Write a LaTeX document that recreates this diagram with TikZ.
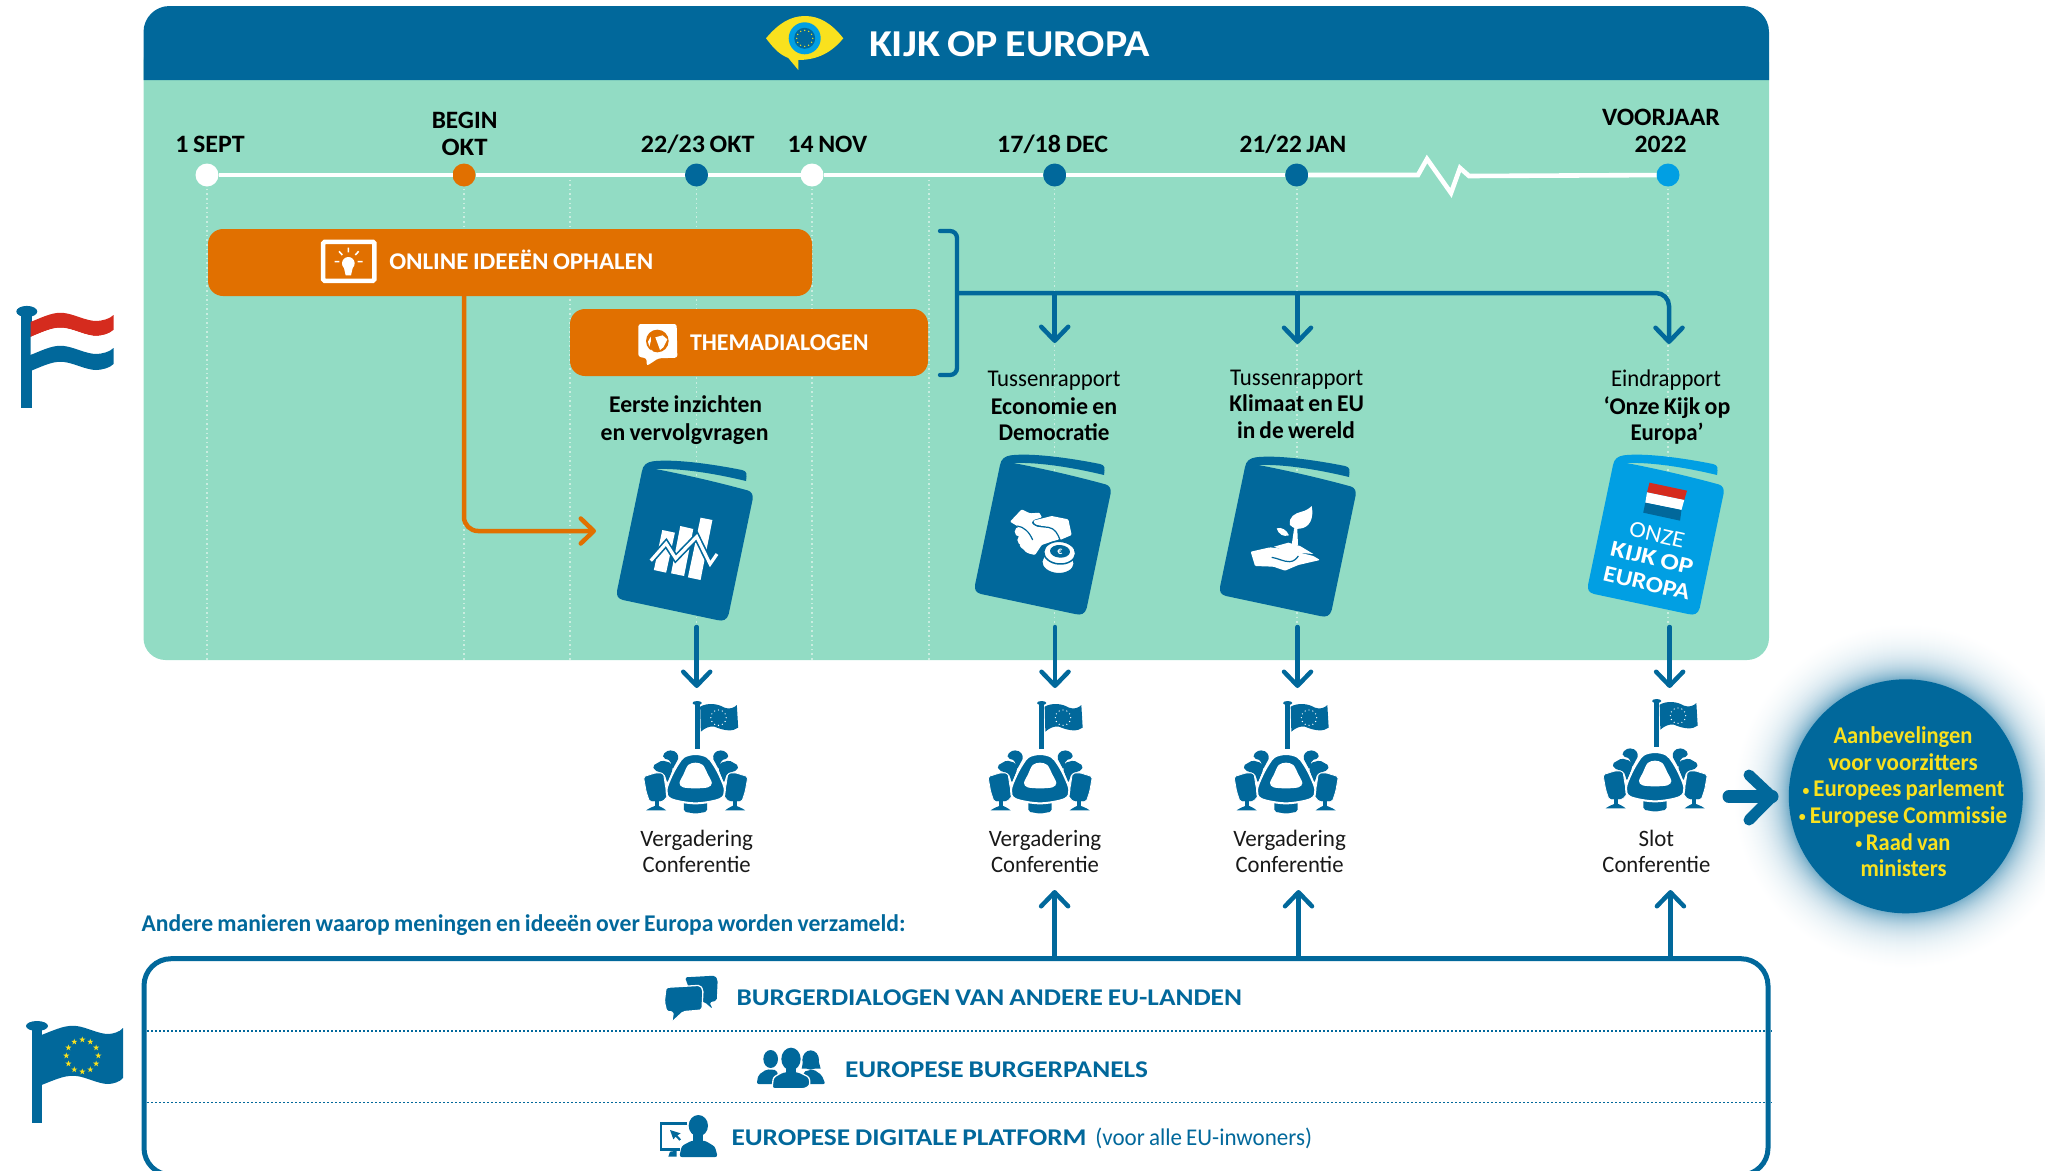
\documentclass[tikz,border=0pt]{standalone}
\usepackage{fontspec}
\usepackage{graphicx}
\usetikzlibrary{arrows.meta}
\setmainfont{Carlito}[WordSpace=0.8]
\definecolor{hblue}{HTML}{01689B}
\definecolor{mint}{HTML}{92DCC4}
\definecolor{oranje}{HTML}{E17000}
\definecolor{geel}{HTML}{F9E11E}
\definecolor{cyaan}{HTML}{019FE3}
\definecolor{rood}{HTML}{D52B1E}
\definecolor{hint}{HTML}{C9EDE0}
\newcommand\fs[1]{\fontsize{#1}{#1}\selectfont}
\newcommand\fw[2]{\resizebox{#1pt}{\height}{#2}}
\newcommand\bul{\raisebox{1.6pt}{\scalebox{.6}{•}}}
\newcommand\bookshape[1]{%
\fill[#1] (1245,467) .. controls (1246,461) and (1250,458) .. (1256,457.3) .. controls (1275,455) and (1310,459) .. (1345,466) .. controls (1350,467) and (1350,470) .. (1349,477) .. controls (1320,470) and (1285,464) .. (1258.3,465) .. controls (1285,470) and (1320,478) .. (1351,486.5) .. controls (1355,488) and (1356,491) .. (1355.7,495) -- (1331.7,610) .. controls (1330,616) and (1326,617.5) .. (1320,616) -- (1226,596) .. controls (1221,594.5) and (1219.5,592) .. (1220,587) -- cycle;}
% one band of a waving flag: x at left, crest, dip, right; y top, y bottom; colour
\newcommand\band[7]{%
\fill[#7] (#1,#5) .. controls ({#1+0.5*(#2-#1)},{#5-7}) and ({#2-0.3*(#2-#1)},{#5-10}) .. (#2,{#5-9}) .. controls ({#2+0.3*(#3-#2)},{#5-8}) and ({#3-0.3*(#3-#2)},{#5-1}) .. (#3,{#5-1}) .. controls ({#3+0.3*(#4-#3)},{#5-1}) and ({#4-0.2*(#4-#3)},{#5-3}) .. (#4,{#5-7})
 -- (#4,{#6-7}) .. controls ({#4-0.2*(#4-#3)},{#6-3}) and ({#3+0.3*(#4-#3)},{#6-1}) .. (#3,{#6-1}) .. controls ({#3-0.3*(#3-#2)},{#6-1}) and ({#2+0.3*(#3-#2)},{#6-8}) .. (#2,{#6-9}) .. controls ({#2-0.3*(#2-#1)},{#6-10}) and ({#1+0.5*(#2-#1)},{#6-7}) .. (#1,#6) -- cycle;}
\newcommand\chairs{%
 \fill[hblue,rounded corners=1.8pt] (70,212) -- (98,196) -- (125,204) -- (130,222) -- (114,265) -- (105,236) -- (75,226) -- cycle;
 \fill[hblue,rounded corners=1.8pt] (100,178) -- (118,165) -- (140,170) -- (148,188) -- (128,225) -- (122,196) -- (102,190) -- cycle;
 \draw[white,line width=.8pt,fill=hblue,rounded corners=1.8pt] (42,245) -- (80,233) -- (102,235) -- (108,275) -- (115,302) -- (100,320) -- (60,320) -- (50,290) -- cycle;
 \fill[hblue] (76,316) rectangle (88,334);
 \fill[hblue] (50,346) .. controls (60,338) and (75,334) .. (82,330) .. controls (90,334) and (100,338) .. (110,346) -- cycle;}
\tikzset{
 x=1pt,y=-1pt,
 lab/.style={inner sep=0pt,outer sep=0pt,anchor=base,align=center,text=black},
 datum/.style={lab,font=\fs{25}\bfseries},
 book lab/.style={lab,font=\fs{24}},
 book head/.style={lab,font=\fs{24}\bfseries},
 meet lab/.style={lab,font=\fs{23.5},text=black!90},
 tl/.style={draw=white,line width=4.6pt,miter limit=10},
 dot/.style={circle,minimum size=23pt,inner sep=0pt,outer sep=0pt},
 hint line/.style={draw=hint,line width=1.5pt,dash pattern=on 1.6pt off 3pt},
 obox/.style={fill=oranje,rounded corners=15pt,inner sep=0pt,outer sep=0pt},
 otxt/.style={lab,text=white,font=\fs{24}\bfseries},
 conn/.style={draw=hblue,line width=4.5pt},
 arr/.style={conn,-{Straight Barb[length=14pt,width=27pt,line width=4.5pt,round]}},
 onder/.style={lab,anchor=base west,text=hblue,font=\fs{24}\bfseries},
 panelline/.style={draw=hblue,line width=1.5pt,dash pattern=on 1.5pt off 2.5pt},
 cirk/.style={lab,text=geel,font=\fs{24}\bfseries},
 kover/.style={inner sep=0pt,rotate=-13,text=white},
 meeting/.pic={
  \begin{scope}[scale=1/3,shift={(-204,0)}]
   \fill[hblue] (196,24) rectangle (211,162);
   \fill[hblue] (203,24) ellipse [x radius=14,y radius=6];
   \fill[hblue] (212,35) .. controls (235,22) and (265,26) .. (285,38) .. controls (300,44) and (315,38) .. (322,30) -- (326,98) .. controls (310,110) and (285,108) .. (255,95) .. controls (240,92) and (225,100) .. (214,110) -- cycle;
   \foreach \a in {0,30,...,330} \fill[white,shift={(267,68)}] (\a:23) circle [radius=2];
   \chairs
   \begin{scope}[shift={(397,0)},xscale=-1] \chairs \end{scope}
   \fill[hblue,rounded corners=2pt] (163,315) -- (233,315) -- (233,350) -- (198,356) -- (163,350) -- cycle;
   \draw[white,line width=2pt,fill=hblue] plot[smooth cycle,tension=.55] coordinates {(198,177) (232,185) (252,208) (272,245) (286,285) (272,312) (198,325) (124,312) (111,285) (125,245) (145,208) (164,185)};
   \fill[white] plot[smooth cycle,tension=.55] coordinates {(198,203) (220,210) (235,238) (247,264) (235,277) (198,280) (161,277) (150,264) (162,238) (176,210)};
  \end{scope}
 }
}
\begin{document}
\begin{tikzpicture}
\useasboundingbox (0,0) rectangle (2045,1170);
\clip (0,0) rectangle (2045,1170);
% panel
\fill[mint,rounded corners=22pt] (143.5,40) -- (143.5,660) -- (1769,660) -- (1769,40) -- cycle;
\fill[hblue,rounded corners=26pt] (143.5,80) -- (143.5,6) -- (1769,6) -- (1769,80);
% eye
\fill[geel] (766,38.3) .. controls (778,24) and (790,16) .. (805,16) .. controls (820,16) and (832,24) .. (843.3,38.3) .. controls (832,52) and (818,60) .. (798.3,60) -- (798.3,70) -- (788.3,58) .. controls (778,54) and (772,46) .. (766,38.3) -- cycle;
\fill[cyaan] (804.7,38.3) circle [radius=16];
\fill[hblue] (804.7,38.3) circle [radius=10.5];
\foreach \a in {0,30,...,330} \fill[geel,shift={(804.7,38.3)}] (\a:8) circle [radius=.75];
\node[lab,anchor=base west,text=white,font=\fs{38}\bfseries] (titel) at (869,56.7) {\fw{281}{KIJK OP EUROPA}};
% dotted guide lines
\foreach \gx in {207,464,570,696.5,812,929,1054.7,1297,1668}
  \draw[hint line] (\gx,175) -- (\gx,660);
% time line
\node[dot,fill=white] (d1) at (207,175) {};
\node[dot,fill=oranje] (d2) at (464,175) {};
\node[dot,fill=hblue] (d3) at (696.5,175) {};
\node[dot,fill=white] (d4) at (812,175) {};
\node[dot,fill=hblue] (d5) at (1054.7,175) {};
\node[dot,fill=hblue] (d6) at (1296.7,175) {};
\node[dot,fill=cyaan] (d7) at (1668,175) {};
\coordinate (z1) at (1418,175);
\coordinate (z2) at (1427,159);
\coordinate (z3) at (1451,193);
\coordinate (z4) at (1460,168);
\coordinate (z5) at (1469,176);
\draw[tl] (d1) -- (d2);
\draw[tl] (d2) -- (d3);
\draw[tl] (d3) -- (d4);
\draw[tl] (d4) -- (d5);
\draw[tl] (d5) -- (d6);
\draw[tl] (d6) -- (z1) -- (z2) -- (z3) -- (z4) -- (z5) -- (d7);
\node[datum] (t1) at (210,152.7) {\fw{69.5}{1 SEPT}};
\node[datum] (t2a) at (464.6,128) {\fw{65.7}{BEGIN}};
\node[datum] (t2b) at (464.6,155) {\fw{46}{OKT}};
\node[datum] (t3) at (697.7,152.7) {\fw{113.5}{22/23 OKT}};
\node[datum] (t4) at (827.5,152.7) {\fw{79.7}{14 NOV}};
\node[datum] (t5) at (1052.7,152.7) {\fw{111}{17/18 DEC}};
\node[datum] (t6) at (1293,152.7) {\fw{106.7}{21/22 JAN}};
\node[datum] (t7a) at (1661,125) {\fw{118}{VOORJAAR}};
\node[datum] (t7b) at (1660.7,152.7) {\fw{52}{2022}};
% orange connector
\coordinate (o1) at (464,295);
\coordinate (o2) at (464,531);
\coordinate (o3) at (596,531);
\draw[draw=oranje,line width=4.5pt,rounded corners=14pt,-{Straight Barb[length=13pt,width=25pt,line width=4.5pt,round]}] (o1) -- (o2) -- (o3);
% orange boxes
\node[obox,minimum width=604pt,minimum height=67pt] (b1) at (510,262.5) {};
\node[obox,minimum width=358pt,minimum height=67pt] (b2) at (749,342.5) {};
\node[otxt,anchor=base west] (b1t) at (389.3,269) {\fw{264}{ONLINE IDEEËN OPHALEN}};
\node[otxt,anchor=base west] (b2t) at (690,350) {\fw{178.6}{THEMADIALOGEN}};
\begin{scope}[shift={(310,230)},scale=1/3]
 \draw[white,line width=4.6pt,rounded corners=1.5pt] (39.5,35.5) rectangle (193,152.5);
 \fill[white] (115,100) circle [radius=19];
 \fill[white] (101,110) -- (129,110) -- (123,136) -- (107,136) -- cycle;
 \draw[white,line width=1.6pt] (115,53) -- (115,67) (87,64) -- (97,75) (146,64) -- (136,75) (74,95) -- (88,95) (143,95) -- (158,95);
 % globe bubble
 \fill[white,rounded corners=2.5pt] (985,282) -- (1100,282) -- (1102,383) -- (1045,385) -- (1010,408) -- (1010,385) -- (985,380) -- cycle;
 \fill[oranje] (1042,333) circle [radius=34];
 \fill[white] (1036,322) -- (1058,316) -- (1072,328) -- (1060,352) -- (1050,360) -- (1042,338) -- cycle;
 \fill[white] (1014,335) -- (1022,320) -- (1023,332) -- (1018,350) -- cycle;
 \fill[white] (1022,358) -- (1030,364) -- (1026,366) -- cycle;
\end{scope}
% bracket and report arrows
\coordinate (br1) at (940,231);
\coordinate (br2) at (957,231);
\coordinate (br3) at (957,375);
\coordinate (br4) at (940,375);
\coordinate (bus0) at (957,293);
\coordinate (bus1) at (1054.7,293);
\coordinate (bus2) at (1297.5,293);
\coordinate (bus3) at (1669,293);
\coordinate (r1) at (1054.7,343);
\coordinate (r2) at (1297.5,344);
\coordinate (r3) at (1669,344);
\draw[conn,line width=4.3pt,rounded corners=7pt,line cap=round] (br1) -- (br2) -- (br3) -- (br4);
\draw[arr,rounded corners=13pt] (bus0) -- (bus3) -- (r3);
\draw[arr] (bus1) -- (r1);
\draw[arr] (bus2) -- (r2);
% report captions
\node[book head] (c1) at (685.6,412.7) {\fw{153}{Eerste inzichten}};
\node[book head] (c1b) at (684.6,440.7) {\fw{168}{en vervolgvragen}};
\node[book lab] (c2) at (1054,386.7) {\fw{133}{Tussenrapport}};
\node[book head] (c2b) at (1054,414) {\fw{126.5}{Economie en}};
\node[book head] (c2c) at (1054,440.7) {\fw{111}{Democratie}};
\node[book lab] (c3) at (1296.7,385) {\fw{133}{Tussenrapport}};
\node[book head] (c3b) at (1296.7,411.7) {\fw{134.7}{Klimaat en EU}};
\node[book head] (c3c) at (1296,438.3) {\fw{118}{in de wereld}};
\node[book lab] (c4) at (1666,386.7) {\fw{110}{Eindrapport}};
\node[book head] (c4b) at (1667,414) {\fw{126.7}{‘Onze Kijk op}};
\node[book head] (c4c) at (1667,440.7) {\fw{73}{Europa’}};
% books
\begin{scope}[shift={(-603,4)}] \bookshape{hblue} \end{scope}
\begin{scope}[shift={(-245,-2)}] \bookshape{hblue} \end{scope}
\begin{scope} \bookshape{hblue} \end{scope}
\begin{scope}[shift={(368,-2)}] \bookshape{cyaan} \end{scope}
% chart icon
\begin{scope}[shift={(580,430)},xscale=0.3827,yscale=1/3]
 \fill[white] (215,300) -- (248,308) -- (225,428) -- (193,420) -- cycle;
 \fill[white] (262,288) -- (296,297) -- (272,438) -- (238,430) -- cycle;
 \fill[white] (315,263) -- (346,270) -- (315,450) -- (282,442) -- cycle;
 \draw[hblue,line width=6.5pt,miter limit=4] (185,392) -- (225,340) -- (250,385) -- (305,320) -- (340,402) -- (358,372);
 \draw[white,line width=3.2pt,miter limit=4] (185,392) -- (225,340) -- (250,385) -- (305,320) -- (340,402) -- (358,372);
\end{scope}
% handshake and coins icon
\begin{scope}[shift={(980,490)},scale=1/3]
 \fill[white,rounded corners=1pt] (90,95) -- (125,58) -- (150,70) -- (178,68) -- (186,82) -- (160,90) -- (155,100) -- (170,110) -- (205,112) -- (230,125) -- (238,148) -- (215,155) -- (185,165) -- (165,195) -- (145,190) -- (120,170) -- (115,110) -- cycle;
 \fill[white] (119,125) circle [radius=15] (128,150) circle [radius=16] (150,170) circle [radius=20];
 \fill[white,rounded corners=1pt] (160,92) -- (215,78) -- (265,88) -- (275,135) -- (240,150) -- (225,120) -- (190,108) -- (165,105) -- cycle;
 \draw[hblue,line width=1.2pt,line join=round] (158,96) .. controls (160,108) and (180,110) .. (205,112) .. controls (225,114) and (235,135) .. (240,150);
 \draw[hblue,line width=1.2pt] (112,108) .. controls (130,110) and (148,125) .. (158,150);
 \fill[white,draw=hblue,line width=1.5pt,rotate around={-4:(234,218)}] (234,218) ellipse [x radius=49,y radius=33];
 \fill[white,draw=hblue,line width=1.5pt,rotate around={-4:(239,188)}] (239,188) ellipse [x radius=48,y radius=34];
 \fill[hblue,rotate around={-4:(240,184)}] (240,184) ellipse [x radius=30,y radius=19];
 \node[inner sep=0pt,text=white,font=\fs{10}\bfseries] (euro) at (240,184) {€};
\end{scope}
% plant icon
\begin{scope}[shift={(1220,450)},scale=1/3]
 \fill[white,rounded corners=1pt] (92,305) -- (150,292) -- (200,298) -- (280,318) -- (300,330) -- (235,345) -- (195,362) -- (160,350) -- (105,348) -- cycle;
 \fill[white] (162,290) -- (205,278) -- (240,288) -- (280,312) -- (200,305) -- cycle;
 \fill[white] (215,285) -- (222,238) -- (232,205) -- (236,208) -- (232,240) -- (234,285) -- cycle;
 \fill[white] (210,225) .. controls (205,200) and (225,190) .. (245,185) .. controls (258,182) and (268,175) .. (275,168) .. controls (282,205) and (270,232) .. (240,236) .. controls (228,238) and (220,234) .. (210,225) -- cycle;
 \fill[white] (170,235) .. controls (185,230) and (200,240) .. (207,256) .. controls (190,262) and (175,252) .. (170,235) -- cycle;
 \draw[hblue,line width=1.2pt] (155,322) .. controls (175,325) and (190,335) .. (208,335) .. controls (222,335) and (230,325) .. (235,318);
\end{scope}
% report book 4 cover
\begin{scope}[shift={(1500,430)},xscale=1/2.877,yscale=1/3]
 \fill[rood] (430,158) -- (538,182) -- (530,210) -- (423,187) -- cycle;
 \fill[white] (423,187) -- (530,210) -- (522,240) -- (418,218) -- cycle;
 \fill[hblue] (418,218) -- (522,240) -- (518,272) -- (412,248) -- cycle;
\end{scope}
\node[kover,font=\fs{23}] (k1) at (1657,535) {\fw{56}{ONZE}};
\node[kover,font=\fs{23}\bfseries] (k2) at (1652,558) {\fw{84}{KIJK OP}};
\node[kover,font=\fs{23}\bfseries] (k3) at (1646.7,583) {\fw{88}{EUROPA}};
% meeting icons
\pic (m1) at (697.5,695) {meeting};
\pic (m2) at (1042,695) {meeting};
\pic (m3) at (1288,695) {meeting};
\pic (m4) at (1657,693) {meeting};
\node[meet lab] (v1a) at (696.7,846.7) {\fw{112.5}{Vergadering}};
\node[meet lab] (v1b) at (696.7,872.7) {\fw{108}{Conferentie}};
\node[meet lab] (v2a) at (1045,846.7) {\fw{112.5}{Vergadering}};
\node[meet lab] (v2b) at (1045,872.7) {\fw{108}{Conferentie}};
\node[meet lab] (v3a) at (1289.6,846.7) {\fw{112.5}{Vergadering}};
\node[meet lab] (v3b) at (1289.6,872.7) {\fw{108}{Conferentie}};
\node[meet lab] (v4a) at (1656.4,846.7) {\fw{35.5}{Slot}};
\node[meet lab] (v4b) at (1656.4,872.7) {\fw{108}{Conferentie}};
% arrows report -> meeting
\coordinate (f1) at (696.7,627); \coordinate (g1) at (696.7,688);
\coordinate (f2) at (1055,627);  \coordinate (g2) at (1055,688);
\coordinate (f3) at (1297.5,627);\coordinate (g3) at (1297.5,688);
\coordinate (f4) at (1669.6,627);\coordinate (g4) at (1669.6,688);
\foreach \n in {1,2,3,4} \draw[arr,line cap=round] (f\n) -- (g\n);
% recommendation circle with glow
\foreach \i in {0,...,55}{
  \pgfmathsetmacro\glowd{55-\i}
  \pgfmathsetmacro\glowp{58*(exp(-\glowd/19)-exp(-55/19))}
  \pgfmathsetmacro\glowr{172-\i}
  \fill[hblue!\glowp!white] (1905.8,796.3) circle [radius=\glowr];
}
\node[circle,fill=hblue,minimum size=234pt,inner sep=0pt,outer sep=0pt] (rec) at (1905.8,796.3) {};
\node[cirk] (r1t) at (1903,743.3) {\fw{139}{Aanbevelingen}};
\node[cirk] (r2t) at (1903,770) {\fw{149.5}{voor voorzitters}};
\node[cirk] (r3t) at (1903.5,796.7) {\fw{202}{\bul\ Europees parlement}};
\node[cirk] (r4t) at (1903,823.3) {\fw{208.5}{\bul\ Europese Commissie}};
\node[cirk] (r5t) at (1903,850) {\fw{95}{\bul\,Raad van}};
\node[cirk] (r6t) at (1903.5,876) {\fw{86}{ministers}};
% big arrow
\coordinate (ba1) at (1729,796.7);
\coordinate (ba2) at (1772,796.7);
\coordinate (bh1) at (1749,775);
\coordinate (bh2) at (1749,820);
\draw[hblue,line width=13pt,line cap=round] (ba1) -- (ba2);
\draw[hblue,line width=11pt,line cap=round,line join=round] (bh1) -- (ba2) -- (bh2);
% lower part
\node[lab,anchor=base west,text=hblue,font=\fs{24}\bfseries] (andere) at (141.6,931.7) {\fw{764}{Andere manieren waarop meningen en ideeën over Europa worden verzameld:}};
\draw[hblue,line width=5pt,rounded corners=27pt] (144,1175) -- (144,958.7) -- (1768,958.7) -- (1768,1175) -- cycle;
\draw[panelline] (147,1031) -- (1772,1031);
\draw[panelline] (147,1102.7) -- (1772,1102.7);
\coordinate (u2) at (1054.6,957);\coordinate (v2) at (1054.6,890);
\coordinate (u3) at (1298.5,957);\coordinate (v3) at (1298.5,890);
\coordinate (u4) at (1670.4,957);\coordinate (v4) at (1670.4,890);
\foreach \n in {2,3,4} \draw[arr] (u\n) -- (v\n);
\node[onder] (o1t) at (736.6,1005.7) {\fw{505.4}{BURGERDIALOGEN VAN ANDERE EU-LANDEN}};
\node[onder] (o2t) at (845,1077.3) {\fw{303}{EUROPESE BURGERPANELS}};
\node[onder] (o3t) at (731.5,1145.7) {\fw{355}{EUROPESE DIGITALE PLATFORM}};
\node[onder,font=\fs{24}] (o3u) at (1095.4,1145) {\fw{216.6}{(voor alle EU-inwoners)}};
% lower icons
\begin{scope}[shift={(650,960)},scale=1/3]
 \fill[hblue,rounded corners=1.8pt] (105,52) -- (195,47) -- (203,60) -- (200,122) -- (178,127) -- (188,147) -- (165,127) -- (130,120) -- cycle;
 \draw[white,line width=1.3pt,fill=hblue,rounded corners=1.8pt] (48,82) -- (150,76) -- (159,90) -- (156,150) -- (100,155) -- (65,187) -- (70,156) -- (50,155) -- (43,125) -- cycle;
 % people
 \fill[hblue] (362,297) ellipse [x radius=22,y radius=27];
 \fill[hblue,rounded corners=2pt] (320,372) -- (325,345) -- (350,328) -- (380,330) -- (390,372) -- cycle;
 \fill[hblue] (482,300) ellipse [x radius=25,y radius=29];
 \fill[hblue] (460,300) -- (505,300) -- (512,326) -- (455,326) -- cycle;
 \fill[hblue,rounded corners=2pt] (526,372) -- (515,345) -- (490,328) -- (460,335) -- (465,372) -- cycle;
 \fill[hblue,draw=white,line width=1.3pt,rounded corners=2.5pt] (366,386) -- (370,352) -- (400,335) -- (445,335) -- (478,352) -- (480,376) -- (465,386) -- cycle;
 \fill[hblue] (423,297) ellipse [x radius=29,y radius=34];
 \fill[hblue] (408,320) rectangle (438,345);
 % monitor
 \draw[hblue,line width=2.3pt] (112,490.5) -- (33.5,490.5) -- (33.5,568.5) -- (90,568.5);
 \fill[hblue] (55,590) -- (60,575) -- (80,572) -- (80,590) -- cycle;
 \fill[hblue] (60,510) -- (92,520) -- (82,526) -- (93,538) -- (88,542) -- (77,530) -- (70,538) -- cycle;
 \fill[hblue] (145,497) ellipse [x radius=29,y radius=32];
 \fill[hblue] (130,520) rectangle (160,545);
 \fill[hblue,rounded corners=2.5pt] (88,591) -- (95,558) -- (125,542) -- (165,542) -- (195,560) -- (203,591) -- cycle;
\end{scope}
% NL flag
\fill[hblue] (21,311) rectangle (32,408);
\fill[hblue] (26.8,311.5) ellipse [x radius=10.5,y radius=5.6];
\band{30.6}{64}{96}{113.5}{322}{337}{rood}
\band{30.6}{64}{96}{113.5}{337}{355}{white}
\band{30.6}{64}{96}{113.5}{355}{371}{hblue}
% EU flag
\fill[hblue] (32,1026) rectangle (41.5,1122.7);
\fill[hblue] (37,1026) ellipse [x radius=11,y radius=5];
\band{41.5}{76.5}{108}{123}{1035}{1085}{hblue}
\foreach \a in {0,30,...,330}
  \fill[geel,shift={(82.3,1055.7)},shift={(\a:16)}] (270:3.2) -- (54:3.2) -- (198:3.2) -- (342:3.2) -- (126:3.2) -- cycle;
\end{tikzpicture}
\end{document}
